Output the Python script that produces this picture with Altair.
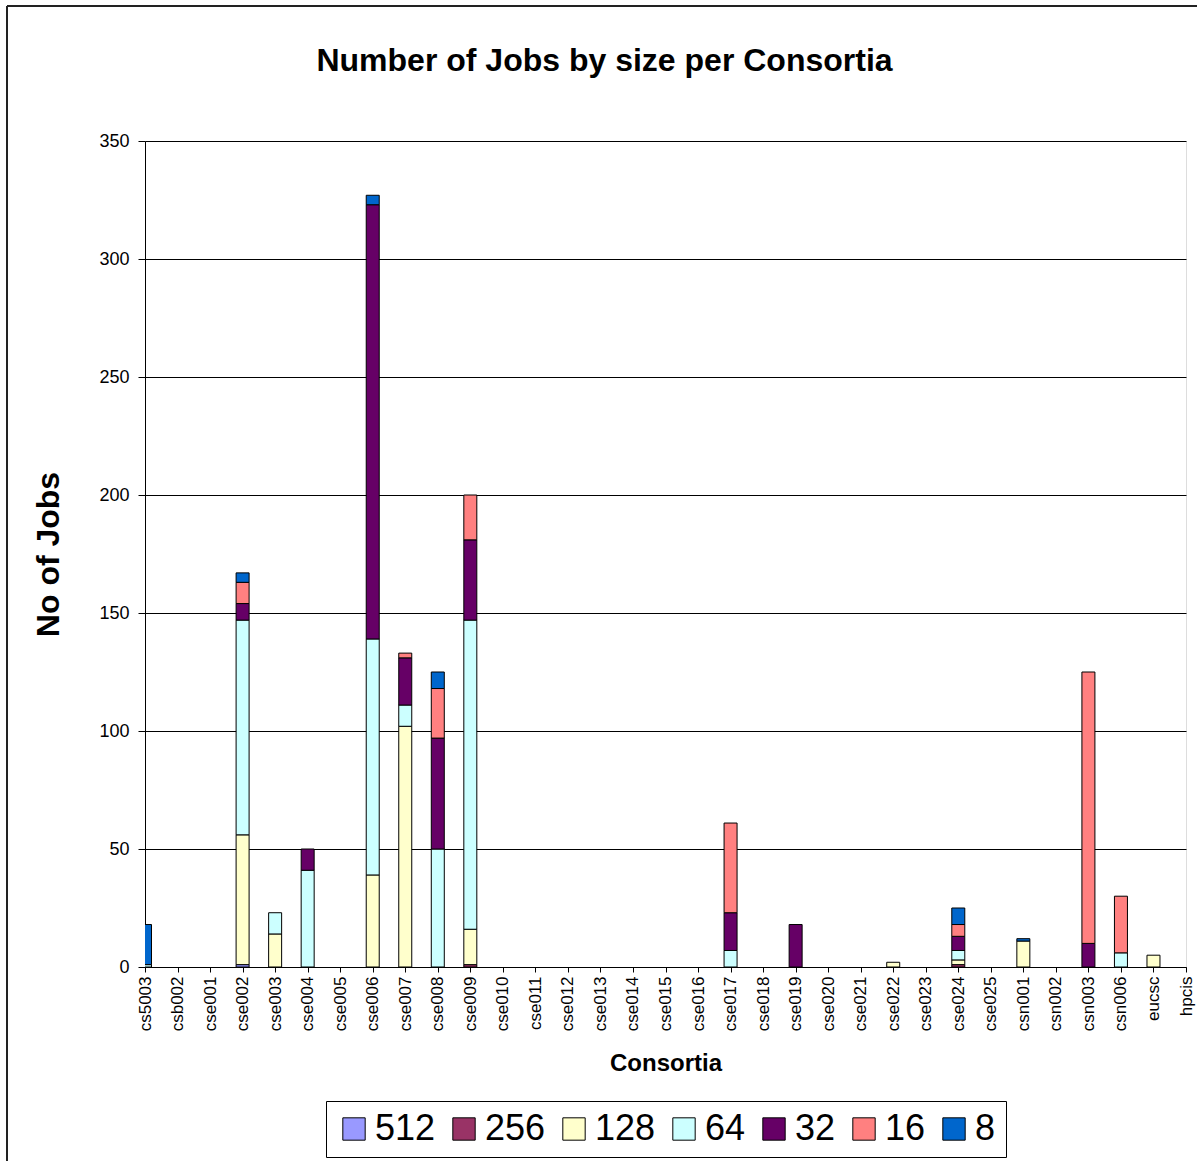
import altair as alt
import pandas as pd

categories = ["cs5003", "csb002", "cse001", "cse002", "cse003", "cse004", "cse005",
              "cse006", "cse007", "cse008", "cse009", "cse010", "cse011", "cse012",
              "cse013", "cse014", "cse015", "cse016", "cse017", "cse018", "cse019",
              "cse020", "cse021", "cse022", "cse023", "cse024", "cse025", "csn001",
              "csn002", "csn003", "csn006", "eucsc", "hpcis"]

sizes = ["512", "256", "128", "64", "32", "16", "8"]
colors = ["#9999FF", "#993366", "#FFFFCC", "#CCFFFF", "#660066", "#FF8080", "#0066CC"]

#          cs5003 csb002 cse001 cse002 cse003 cse004 cse005 cse006 cse007 cse008 cse009 cse010 cse011 cse012 cse013 cse014 cse015 cse016 cse017 cse018 cse019 cse020 cse021 cse022 cse023 cse024 cse025 csn001 csn002 csn003 csn006 eucsc hpcis
jobs_512 = [0, 0, 0, 1, 0, 0, 0, 0, 0, 0, 0, 0, 0, 0, 0, 0, 0, 0, 0, 0, 0, 0, 0, 0, 0, 0, 0, 0, 0, 0, 0, 0, 0]
jobs_256 = [0, 0, 0, 0, 0, 0, 0, 0, 0, 0, 1, 0, 0, 0, 0, 0, 0, 0, 0, 0, 0, 0, 0, 0, 0, 1, 0, 0, 0, 0, 0, 0, 0]
jobs_128 = [0, 0, 0, 55, 14, 0, 0, 39, 102, 0, 15, 0, 0, 0, 0, 0, 0, 0, 0, 0, 0, 0, 0, 2, 0, 2, 0, 11, 0, 0, 0, 5, 0]
jobs_64 = [1, 0, 0, 91, 9, 41, 0, 100, 9, 50, 131, 0, 0, 0, 0, 0, 0, 0, 7, 0, 0, 0, 0, 0, 0, 4, 0, 0, 0, 0, 6, 0, 0]
jobs_32 = [0, 0, 0, 7, 0, 9, 0, 184, 20, 47, 34, 0, 0, 0, 0, 0, 0, 0, 16, 0, 18, 0, 0, 0, 0, 6, 0, 0, 0, 10, 0, 0, 0]
jobs_16 = [0, 0, 0, 9, 0, 0, 0, 0, 2, 21, 19, 0, 0, 0, 0, 0, 0, 0, 38, 0, 0, 0, 0, 0, 0, 5, 0, 0, 0, 115, 24, 0, 0]
jobs_8 = [17, 0, 0, 4, 0, 0, 0, 4, 0, 7, 0, 0, 0, 0, 0, 0, 0, 0, 0, 0, 0, 0, 0, 0, 0, 7, 0, 1, 0, 0, 0, 0, 0]

series = [jobs_512, jobs_256, jobs_128, jobs_64, jobs_32, jobs_16, jobs_8]

rows = []
for rank, (size, vals) in enumerate(zip(sizes, series)):
    for cat, v in zip(categories, vals):
        rows.append({"consortia": cat, "size": size, "rank": rank, "jobs": v})
df = pd.DataFrame(rows)

FONT = "Liberation Sans"

bars = alt.Chart(df).transform_filter(alt.datum.jobs > 0).mark_bar(
    size=13, stroke="black", strokeWidth=1, clip=True
).encode(
    x=alt.X("consortia:N", sort=categories,
            scale=alt.Scale(type="point", domain=categories, padding=0),
            axis=alt.Axis(title="Consortia", labelAngle=270, labelFontSize=17,
                          labelFont=FONT, labelColor="black", labelPadding=4,
                          tickSize=5, tickColor="black", domainColor="black",
                          titleFontSize=24, titleFont=FONT, titleFontWeight="bold",
                          titleColor="black", titleY=84, grid=False)),
    y=alt.Y("jobs:Q", stack="zero",
            scale=alt.Scale(domain=[0, 350], nice=False),
            axis=alt.Axis(title="No of Jobs", values=list(range(0, 351, 50)),
                          labelFontSize=18, labelFont=FONT, labelColor="black",
                          labelPadding=9, tickSize=7, tickColor="black",
                          domainColor="black", gridColor="black", gridWidth=1,
                          titleFontSize=32, titleFont=FONT, titleFontWeight="bold",
                          titleColor="black", titleX=-80)),
    color=alt.Color("size:N", scale=alt.Scale(domain=sizes, range=colors),
                    legend=alt.Legend(title=None, orient="none", legendX=181, legendY=960,
                                      direction="horizontal", symbolType="square",
                                      symbolSize=500, symbolStrokeColor="black",
                                      symbolStrokeWidth=1, labelFontSize=36,
                                      labelFont=FONT, labelColor="black",
                                      labelOffset=3, columnPadding=10,
                                      padding=10, fillColor="white", strokeColor="black",
                                      symbolOpacity=1)),
    order=alt.Order("rank:Q", sort="ascending"),
)

frame_df = pd.DataFrame({"a": [0]})
frame_left = alt.Chart(frame_df).mark_rule(color="#222222", strokeWidth=2, clip=False).encode(
    x=alt.value(-138), y=alt.value(-135), y2=alt.value(1100))
frame_top = alt.Chart(frame_df).mark_rule(color="#222222", strokeWidth=2, clip=False).encode(
    x=alt.value(-138), x2=alt.value(1100), y=alt.value(-135))

chart = alt.layer(frame_left, frame_top, bars).properties(
    width=1041, height=826,
    padding={"left": 145, "top": 141, "right": 11, "bottom": 194},
    autosize=alt.AutoSizeParams(type="none"),
    title=alt.TitleParams("Number of Jobs by size per Consortia", fontSize=32, font=FONT,
                          fontWeight="bold", color="black", anchor="middle", dx=-61,
                          offset=-98, baseline="alphabetic"),
).configure_view(
    fill="#C0C0C0", stroke="#808080", strokeWidth=2
).configure(background="white")

chart.save("out.html", embed_options={"renderer": "svg", "actions": False})
